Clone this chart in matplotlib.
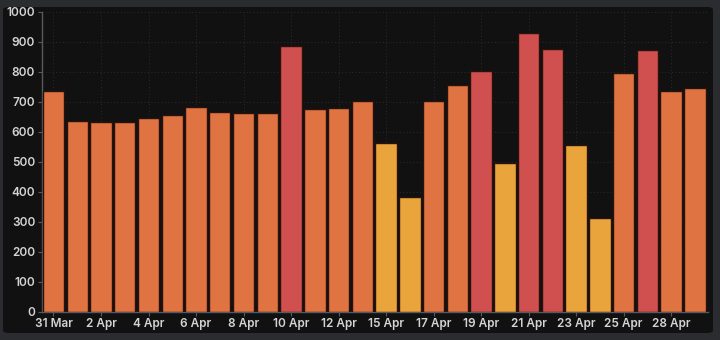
import matplotlib.pyplot as plt
from matplotlib.patches import FancyBboxPatch

# daily values, one bar per day (14 and 27 Apr are missing in the source)
days = ["31 Mar", "1 Apr", "2 Apr", "3 Apr", "4 Apr", "5 Apr", "6 Apr",
        "7 Apr", "8 Apr", "9 Apr", "10 Apr", "11 Apr", "12 Apr", "13 Apr",
        "15 Apr", "16 Apr", "17 Apr", "18 Apr", "19 Apr", "20 Apr", "21 Apr",
        "22 Apr", "23 Apr", "24 Apr", "25 Apr", "26 Apr", "28 Apr", "29 Apr"]
values = [738, 637, 635, 634, 647, 657, 684, 667, 664, 662, 887, 676, 680, 705,
          562, 384, 705, 757, 804, 498, 929, 876, 557, 314, 797, 875, 738, 747]
y_ticks = [0, 100, 200, 300, 400, 500, 600, 700, 800, 900, 1000]

YELLOW = "#e9a53b"
ORANGE = "#df7341"
RED = "#d04f4f"


def bar_colour(v):
    if v < 600:
        return YELLOW
    if v <= 800:
        return ORANGE
    return RED


plt.rcParams['font.family'] = ['Inter', 'DejaVu Sans']

fig = plt.figure(figsize=(7.2, 3.4), dpi=100, facecolor="#2b2c30")
panel = FancyBboxPatch((3 / 720, 7 / 340), 710 / 720, 326 / 340,
                       boxstyle="round,pad=0,rounding_size=0.008",
                       transform=fig.transFigure, facecolor="#111111",
                       edgecolor="none", zorder=-1)
fig.patches.append(panel)

ax = fig.add_axes([41.5 / 720, 28 / 340, (708 - 41.5) / 720, 300 / 340])
ax.set_zorder(1)
ax.set_facecolor("#111111")

x = list(range(len(days)))
ax.bar(x, values, width=0.9, color=[bar_colour(v) for v in values],
       edgecolor="#2a120c", linewidth=1.0, zorder=3)

ax.set_xlim(-0.505, 27.55)
ax.set_ylim(0, 1000)
ax.set_yticks(y_ticks)
ax.set_xticks(x[::2])
ax.set_xticklabels(days[::2])

# faint dotted grid
ax.grid(True, color="#2c2c2c", linestyle=(0, (1, 2.5)), linewidth=0.7, zorder=0)
for side in ["top", "right"]:
    ax.spines[side].set_visible(False)
for side in ["left", "bottom"]:
    ax.spines[side].set_color("#5a5a5e")
    ax.spines[side].set_linewidth(1.0)

ax.tick_params(colors="#5a5a5e", labelcolor="#d4d4d4", labelsize=8.5,
               length=3, pad=1.5)
for lbl in ax.get_xticklabels() + ax.get_yticklabels():
    lbl.set_fontweight("semibold")

fig.savefig("out.png", dpi=100, facecolor=fig.get_facecolor())
